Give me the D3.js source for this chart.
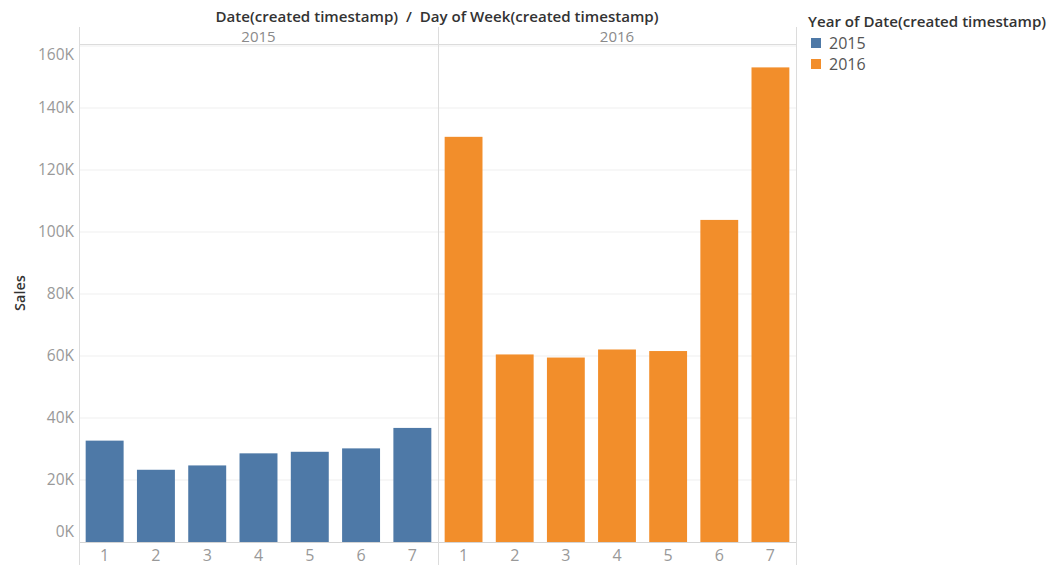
<!DOCTYPE html>
<html>
<head>
<meta charset="utf-8">
<script src="https://cdn.jsdelivr.net/npm/d3@7"></script>
<style>
  html, body { margin: 0; padding: 0; background: #fff; }
  svg { display: block; font-family: "Open Sans", "Noto Sans", sans-serif; }
</style>
</head>
<body>
<svg id="chart" width="1048" height="565"></svg>
<script>
// Sales by day of week, split into one pane per year
const years = ["2015", "2016"];
const days = ["1", "2", "3", "4", "5", "6", "7"];
const sales2015 = [32700, 23300, 24700, 28600, 29100, 30200, 36800];
const sales2016 = [130700, 60500, 59500, 62100, 61600, 103900, 153100];
const yTicks = [0, 20000, 40000, 60000, 80000, 100000, 120000, 140000, 160000];
const yearColors = ["#4e79a7", "#f28e2b"];

const titleText = "Date(created timestamp)  /  Day of Week(created timestamp)";
const legendTitle = "Year of Date(created timestamp)";
const yLabel = "Sales";

const svg = d3.select("#chart");
const plotLeft = 79, plotRight = 796, plotTop = 44, plotBottom = 542;
const headerTop = 27;
const paneEdges = [plotLeft, 438, plotRight];

const seriesByYear = [sales2015, sales2016];
const color = d3.scaleOrdinal().domain(years).range(yearColors);

const y = d3.scaleLinear().domain([0, 160000]).range([plotBottom, 46]);

// horizontal gridlines
svg.append("g")
  .selectAll("line")
  .data(yTicks.filter(v => v > 0))
  .join("line")
  .attr("x1", plotLeft).attr("x2", plotRight)
  .attr("y1", d => y(d)).attr("y2", d => y(d))
  .attr("stroke", "#efefef").attr("stroke-width", 1);

// one pane per year
years.forEach((yr, i) => {
  const x = d3.scaleBand()
    .domain(days)
    .range([paneEdges[i], paneEdges[i + 1]])
    .paddingInner(0.26)
    .paddingOuter(0.13);

  const vals = seriesByYear[i];
  svg.append("g")
    .selectAll("rect")
    .data(days.map((d, j) => ({ day: d, value: vals[j] })))
    .join("rect")
    .attr("x", d => x(d.day))
    .attr("width", x.bandwidth())
    .attr("y", d => y(d.value))
    .attr("height", d => y(0) - y(d.value))
    .attr("fill", color(yr));

  // day labels under the pane
  const xAxis = svg.append("g")
    .attr("transform", `translate(0,${plotBottom})`)
    .call(d3.axisBottom(x).tickSize(0).tickPadding(8));
  xAxis.select(".domain").remove();
  xAxis.selectAll("text")
    .attr("fill", "#999")
    .style("font-size", "16px")
    .style("font-family", "\"Open Sans\", sans-serif");

  // year header
  svg.append("text")
    .attr("x", (paneEdges[i] + paneEdges[i + 1]) / 2)
    .attr("y", 37)
    .attr("dy", "0.35em")
    .attr("text-anchor", "middle")
    .attr("fill", "#8a8a8a")
    .style("font-size", "15px")
    .text(yr);
});

// pane frame lines
svg.append("line")
  .attr("x1", plotLeft).attr("x2", plotRight)
  .attr("y1", plotTop + 0.5).attr("y2", plotTop + 0.5)
  .attr("stroke", "#dcdcdc");
svg.append("line")
  .attr("x1", plotLeft).attr("x2", plotRight)
  .attr("y1", plotBottom + 0.5).attr("y2", plotBottom + 0.5)
  .attr("stroke", "#d4d4d4");
svg.append("g")
  .selectAll("line")
  .data(paneEdges)
  .join("line")
  .attr("x1", d => d + 0.5).attr("x2", d => d + 0.5)
  .attr("y1", headerTop).attr("y2", 565)
  .attr("stroke", "#dcdcdc");

// y axis
const yAxis = svg.append("g")
  .attr("transform", `translate(${plotLeft - 5},0)`)
  .call(d3.axisLeft(y).tickValues(yTicks).tickSize(0).tickPadding(0)
    .tickFormat(v => (v / 1000) + "K"));
yAxis.select(".domain").remove();
yAxis.selectAll("text")
  .attr("fill", "#999")
  .style("font-size", "15.5px")
  .style("font-family", "\"Open Sans\", sans-serif");
// keep the end labels inside the pane
yAxis.selectAll(".tick")
  .attr("transform", d => {
    const p = Math.max(plotTop + 11, Math.min(plotBottom - 10, y(d)));
    return `translate(0,${p})`;
  });

// axis title
svg.append("text")
  .attr("transform", "translate(20,293) rotate(-90)")
  .attr("dy", "0.35em")
  .attr("text-anchor", "middle")
  .attr("fill", "#333")
  .style("font-size", "14.5px")
  .style("font-weight", 600)
  .text(yLabel);

// column header title
svg.append("text")
  .attr("x", 437)
  .attr("y", 17)
  .attr("dy", "0.35em")
  .attr("text-anchor", "middle")
  .attr("fill", "#333")
  .style("font-size", "15.1px")
  .style("font-weight", 600)
  .attr("xml:space", "preserve")
  .text(titleText);

// legend
const legend = svg.append("g").attr("transform", "translate(808,0)");
legend.append("text")
  .attr("x", 0).attr("y", 22)
  .attr("dy", "0.35em")
  .attr("fill", "#333")
  .style("font-size", "15.1px")
  .style("font-weight", 600)
  .text(legendTitle);
const items = legend.selectAll("g.item")
  .data(years)
  .join("g")
  .attr("class", "item")
  .attr("transform", (d, i) => `translate(3,${43 + i * 21})`);
items.append("rect")
  .attr("x", 0).attr("y", -5)
  .attr("width", 10).attr("height", 10)
  .attr("fill", d => color(d));
items.append("text")
  .attr("x", 18).attr("y", 0)
  .attr("dy", "0.35em")
  .attr("fill", "#555")
  .style("font-size", "16px")
  .text(d => d);
</script>
</body>
</html>
